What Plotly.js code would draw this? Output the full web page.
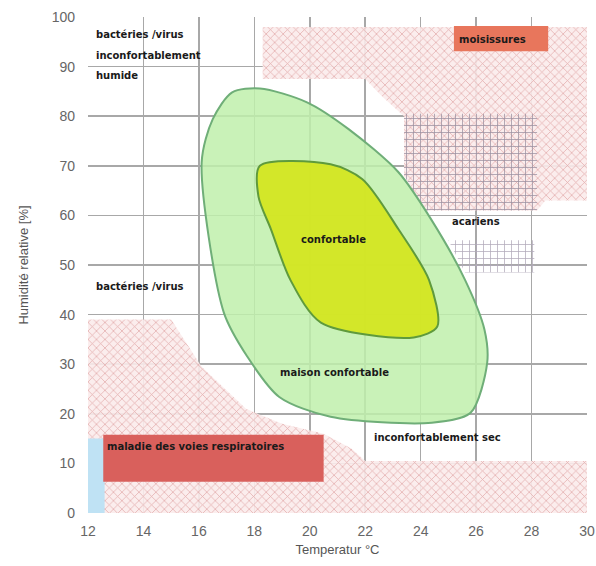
<!DOCTYPE html>
<html><head><meta charset="utf-8">
<script src="https://cdn.plot.ly/plotly-3.0.1.min.js"></script>
<style>html,body{margin:0;padding:0;background:#fff}#chart{width:596px;height:566px}</style>
</head><body><div id="chart"></div>
<script>
// Zones (temperature °C, relative humidity %)
const mouldX = [18.3, 30, 30, 28.5, 28.2, 24.2, 23.4, 23.4, 22.6, 22.0, 18.3];
const mouldY = [98, 98, 63, 63, 61, 61, 68, 80, 84, 87.5, 87.5];
const miteX = [23.4, 28.2, 28.2, 24.2, 23.4];
const miteY = [80.5, 80.5, 61, 61, 68];
const mite2X = [25.0, 28.1, 28.1, 25.6];
const mite2Y = [55, 55, 48.5, 48.5];
const dryX = [12, 15, 16.1, 17.7, 19.0, 20.5, 21.5, 22.0, 30, 30, 12];
const dryY = [39, 39, 29.5, 21, 18, 16, 13, 10.5, 10.5, 0, 0];
const blueX = [12, 12.6, 12.6, 12];
const blueY = [0, 0, 15, 15];
const respX = [12.55, 20.5, 20.5, 12.55];
const respY = [6.3, 6.3, 15.8, 15.8];
const moisX = [25.2, 28.6, 28.6, 25.2];
const moisY = [93.1, 93.1, 98.2, 98.2];
const houseX = [18.2, 19.9, 21.4, 23.2, 24.4, 25.6, 26.3, 26.4, 25.8, 24.4, 20.75, 18.9, 17.75, 16.9, 16.1, 16.5, 17.2, 18.2];
const houseY = [85.6, 82.8, 77.4, 68.7, 59, 47, 37, 30.3, 20.2, 18.2, 19.4, 23.4, 31.5, 40.4, 70.7, 79.4, 84.8, 85.6];
const comfX = [18.2, 20.75, 21.9, 23.2, 24.3, 24.6, 23.75, 20.4, 19.3, 18.6, 18.15, 18.2];
const comfY = [70, 70.3, 67.3, 57.2, 47, 37.6, 35.4, 38.4, 47, 57.2, 63.8, 70];
const xTicks = [12, 14, 16, 18, 20, 22, 24, 26, 28, 30];
const yTicks = [0, 10, 20, 30, 40, 50, 60, 70, 80, 90, 100];
const labels = [
  {t: 'bactéries /virus', x: 12.2, y: 96.4, a: 'left'},
  {t: 'inconfortablement', x: 12.2, y: 92.2, a: 'left'},
  {t: 'humide', x: 12.2, y: 88.2, a: 'left'},
  {t: 'moisissures', x: 26.6, y: 95.5, a: 'center'},
  {t: 'acariens', x: 26.0, y: 58.8, a: 'center'},
  {t: 'confortable', x: 20.85, y: 55.2, a: 'center'},
  {t: 'bactéries /virus', x: 12.2, y: 45.7, a: 'left'},
  {t: 'maison confortable', x: 20.9, y: 28.3, a: 'center'},
  {t: 'inconfortablement sec', x: 24.6, y: 15.2, a: 'center'},
  {t: 'maladie des voies respiratoires', x: 12.6, y: 13.4, a: 'left'}
];

function poly(x, y, opts) {
  return Object.assign({type: 'scatter', mode: 'lines', x: x, y: y, fill: 'toself',
    hoverinfo: 'skip', showlegend: false, line: {width: 0}}, opts);
}
const pinkPat = {shape: 'x', fgcolor: '#e2a8a8', bgcolor: 'rgba(251,236,236,0.9)', size: 6, solidity: 0.22};
const data = [
  poly(dryX, dryY, {fillcolor: 'rgba(251,236,236,0.9)', fillpattern: pinkPat}),
  poly(mouldX, mouldY, {fillcolor: 'rgba(251,236,236,0.9)', fillpattern: pinkPat}),
  poly(miteX, miteY, {fillcolor: 'rgba(255,255,255,0)', fillpattern: {shape: '+', fgcolor: '#9a90a0', bgcolor: 'rgba(255,255,255,0)', size: 7, solidity: 0.2}}),
  poly(mite2X, mite2Y, {fillcolor: 'rgba(255,255,255,0)', fillpattern: {shape: '+', fgcolor: '#b0a8b8', bgcolor: 'rgba(255,255,255,0)', size: 7, solidity: 0.2}}),
  poly(blueX, blueY, {fillcolor: '#bfe2f4'}),
  poly(respX, respY, {fillcolor: '#d9605c'}),
  poly(moisX, moisY, {fillcolor: '#e8765c'}),
  poly(houseX, houseY, {fillcolor: 'rgba(192,240,172,0.85)', line: {color: '#6fae78', width: 2, shape: 'spline', smoothing: 0.8}}),
  poly(comfX, comfY, {fillcolor: 'rgba(212,230,28,0.92)', line: {color: '#5f9a3c', width: 2, shape: 'spline', smoothing: 0.8}})
];
const annotations = labels.map(l => ({x: l.x, y: l.y, xref: 'x', yref: 'y', text: l.t, showarrow: false,
  xanchor: l.a, yanchor: 'middle', font: {family: 'DejaVu Sans', size: 10, color: '#1a1a1a', weight: 'bold'}}));
const layout = {
  width: 596, height: 566,
  margin: {l: 88, r: 9, t: 17, b: 53},
  paper_bgcolor: '#ffffff', plot_bgcolor: '#ffffff',
  font: {family: 'Liberation Sans, Arial, sans-serif', color: '#666'},
  xaxis: {range: [12, 30], tickvals: xTicks, ticktext: xTicks.map(String), showgrid: true, gridcolor: '#a8a8a8', gridwidth: 1.5,
    zeroline: false, showline: false, ticks: '', ticklabelstandoff: 8, tickfont: {size: 14, color: '#666'},
    title: {text: 'Temperatur °C', font: {size: 13, color: '#555'}, standoff: 6}},
  yaxis: {range: [0, 100], tickvals: yTicks, ticktext: yTicks.map(String), showgrid: true, gridcolor: '#a8a8a8', gridwidth: 1.5,
    zeroline: false, showline: false, ticks: '', ticklabelstandoff: 12, tickfont: {size: 14, color: '#666'},
    title: {text: 'Humidité relative [%]', font: {size: 13, color: '#555'}, standoff: 20}},
  annotations: annotations
};
Plotly.newPlot('chart', data, layout, {staticPlot: true, displayModeBar: false});
</script></body></html>
